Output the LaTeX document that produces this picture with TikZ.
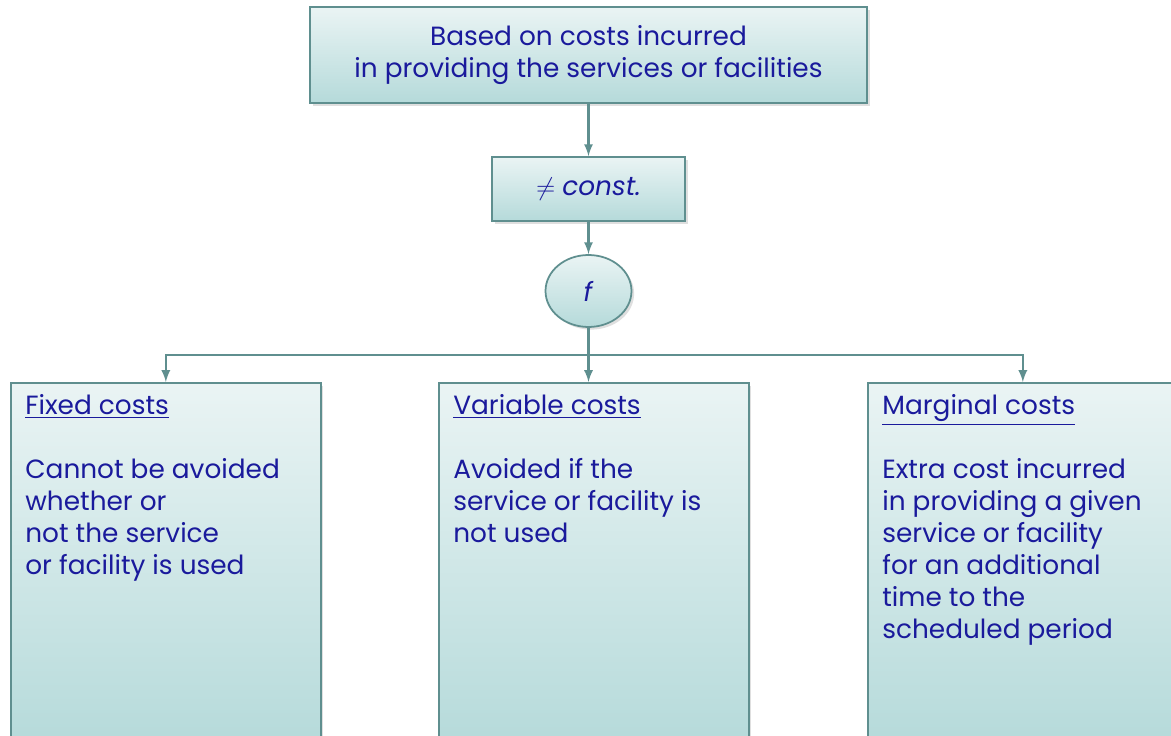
\documentclass[tikz,border=0pt]{standalone}
\usepackage{fontspec}
\setmainfont{Poppins}
\usetikzlibrary{positioning,shapes.geometric,shadows}

\definecolor{boxline}{HTML}{5F8F8F}
\definecolor{boxtop}{HTML}{EAF4F4}
\definecolor{boxbottom}{HTML}{B5DADA}
\definecolor{inkblue}{HTML}{1A1A9C}

\begin{document}
\begin{tikzpicture}[x=0.02cm,y=-0.02cm,
  every node/.style={text=inkblue,font=\fontsize{15}{18.2}\selectfont},
  box/.style={draw=boxline,line width=1pt,top color=boxtop,bottom color=boxbottom,
    drop shadow={opacity=0.25,shadow xshift=1.5pt,shadow yshift=-1.5pt}},
  conn/.style={draw=boxline,line width=1.3pt,-latex}]
\useasboundingbox (0,0) rectangle (1171,736);
\clip (0,0) rectangle (1171,736);

% top of the tree
\node[box,minimum width=11.14cm,minimum height=1.92cm,align=center] (basis) at (588.5,55)
  {Based on costs incurred\\in providing the services or facilities};
\node[box,minimum width=3.86cm,minimum height=1.28cm] (const) at (588.5,189) {$\neq$ \textit{const.}};
\node[box,ellipse,minimum width=1.72cm,minimum height=1.44cm] (f) at (588.5,291) {\textit{f}};

% the three kinds of cost
\node[box,minimum width=6.2cm,minimum height=7.3cm,anchor=north west] (fixed) at (10,382) {};
\node[box,minimum width=6.2cm,minimum height=7.3cm,anchor=north west] (variable) at (438,382) {};
\node[box,minimum width=6.2cm,minimum height=7.3cm,anchor=north west] (marginal) at (867,382) {};

\node[inner sep=0,align=left,below right=0.24cm and 0.3cm of fixed.north west] (fixedtxt)
  {\underline{Fixed costs}\\[18.2pt]Cannot be avoided\\whether or\\not the service\\or facility is used};
\node[inner sep=0,align=left,below right=0.24cm and 0.3cm of variable.north west] (variabletxt)
  {\underline{Variable costs}\\[18.2pt]Avoided if the\\service or facility is\\not used};
\node[inner sep=0,align=left,below right=0.24cm and 0.3cm of marginal.north west] (marginaltxt)
  {\underline{Marginal costs}\\[18.2pt]Extra cost incurred\\in providing a given\\service or facility\\for an additional\\time to the\\scheduled period};

% connectors
\coordinate (bus) at (588.5,355);
\draw[conn] (basis) -- (const);
\draw[conn] (const) -- (f);
\draw[conn] (f) -- (f |- variable.north);
\draw[conn] (bus) -| (fixed.north);
\draw[conn] (bus) -| (marginal.north);
\end{tikzpicture}
\end{document}
